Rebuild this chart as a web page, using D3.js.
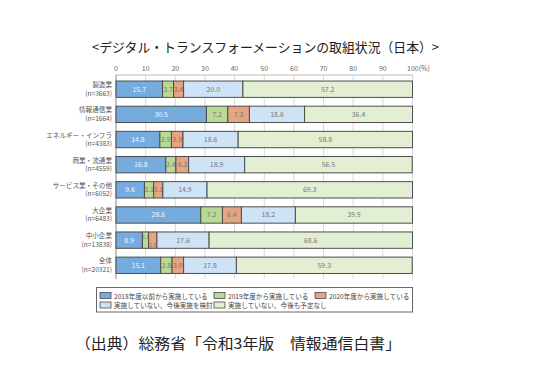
<!DOCTYPE html>
<html><head><meta charset="utf-8">
<script src="https://cdn.jsdelivr.net/npm/d3@7"></script>
<style>
body{margin:0;background:#fff;}
svg{display:block;font-family:"Noto Sans CJK JP","Noto Sans",sans-serif;}
</style></head>
<body><svg id="c" width="536" height="384"></svg>
<script>
const categories = ["製造業","情報通信業","エネルギー・インフラ","商業・流通業","サービス業・その他","大企業","中小企業","全体"];
const sampleSizes = ["(n=3663)","(n=1664)","(n=4383)","(n=4559)","(n=6052)","(n=6483)","(n=13838)","(n=20321)"];
const seriesNames = ["2018年度以前から実施している","2019年度から実施している","2020年度から実施している","実施していない、今後実施を検討","実施していない、今後も予定なし"];
const s2018 = [15.7,30.5,14.8,16.8,9.6,28.6,8.9,15.1];
const s2019 = [3.7,7.2,3.9,3.4,3.1,7.3,2.1,3.8];
const s2020 = [3.4,7.3,3.9,4.3,3.1,6.4,2.8,3.9];
const sConsider = [20.0,18.6,18.6,18.9,14.9,18.2,17.6,17.8];
const sNoPlan = [57.2,36.4,58.8,56.5,69.3,39.5,68.6,59.3];
const tickValues = [0,10,20,30,40,50,60,70,80,90,100];
const colors = ["#75abdd","#b9da95","#e6a481","#cfe3f6","#e3efd3"];

const svg = d3.select("#c");
const series = [s2018,s2019,s2020,sConsider,sNoPlan];
const rows = categories.map((c,i)=>{ const o={cat:c,n:sampleSizes[i]}; series.forEach((s,k)=>o["k"+k]=s[i]); return o;});
const keys = series.map((s,k)=>"k"+k);
const stacked = d3.stack().keys(keys)(rows);

const x = d3.scaleLinear().domain([0,100]).range([116,412.5]);
const y = d3.scaleBand().domain(categories).range([75.5,279]).paddingInner(0.35).paddingOuter(0.22);

// title
svg.append("text").attr("x",92).attr("y",52).attr("font-size",13).attr("fill","#222")
  .attr("textLength",347).attr("lengthAdjust","spacingAndGlyphs")
  .text("<デジタル・トランスフォーメーションの取組状況（日本）>");

// gridlines
svg.append("g").selectAll("line").data(tickValues.slice(1)).join("line")
  .attr("x1",d=>x(d)).attr("x2",d=>x(d)).attr("y1",75).attr("y2",279)
  .attr("stroke","#d8d8d8").attr("stroke-width",1);
svg.append("line").attr("x1",x(0)).attr("x2",x(100)).attr("y1",75).attr("y2",75).attr("stroke","#bbb");
svg.append("line").attr("x1",x(0)).attr("x2",x(0)).attr("y1",75).attr("y2",279).attr("stroke","#888");

// top axis labels
svg.append("g").selectAll("text").data(tickValues).join("text")
  .attr("x",d=>d===100 ? x(d)-5.5 : x(d)).attr("y",71)
  .attr("text-anchor",d=>d===100?"start":"middle")
  .attr("font-size",7).attr("fill","#666")
  .text(d=>d===100?"100(%)":d);

// bars
const g = svg.append("g");
stacked.forEach((layer,k)=>{
  g.append("g").selectAll("rect").data(layer).join("rect")
    .attr("x",d=>x(d[0])).attr("width",d=>x(d[1])-x(d[0]))
    .attr("y",d=>y(d.data.cat)).attr("height",y.bandwidth())
    .attr("fill",colors[k]).attr("stroke","#4d4d4d").attr("stroke-width",1);
});
stacked.forEach((layer,k)=>{
  g.append("g").selectAll("text").data(layer).join("text")
    .each(function(d){
      const w = x(d[1])-x(d[0]);
      const narrow = w < 9;
      const dy = narrow ? (k===1 ? -3.5 : 4) : 0;
      d3.select(this)
        .attr("x",(x(d[0])+x(d[1]))/2)
        .attr("y",y(d.data.cat)+y.bandwidth()/2+2.5+dy)
        .attr("font-size",narrow?5.2:7);
    })
    .attr("text-anchor","middle")
    .attr("fill",k===0?"#f4f8fc":"#777")
    .text(d=>(d[1]-d[0]).toFixed(1));
});

// category labels
const cl = svg.append("g").selectAll("g").data(rows).join("g");
cl.append("text").attr("x",112).attr("y",d=>y(d.cat)+y.bandwidth()/2-2)
  .attr("text-anchor","end").attr("font-size",6.6).attr("fill","#555").text(d=>d.cat);
cl.append("text").attr("x",112).attr("y",d=>y(d.cat)+y.bandwidth()/2+6.5)
  .attr("text-anchor","end").attr("font-size",6.6).attr("fill","#555").text(d=>d.n);

// legend
svg.append("rect").attr("x",96.5).attr("y",287.5).attr("width",316).attr("height",24.5)
  .attr("fill","#fff").attr("stroke","#666");
const legPos = [[100,296],[214,296],[315,296],[100,305.5],[214,305.5]];
const lg = svg.append("g").selectAll("g").data(seriesNames).join("g")
  .attr("transform",(d,i)=>`translate(${legPos[i][0]},${legPos[i][1]})`);
lg.append("rect").attr("x",0).attr("y",-3.5).attr("width",11).attr("height",6)
  .attr("fill",(d,i)=>colors[i]).attr("stroke","#4d4d4d").attr("stroke-width",0.8);
lg.append("text").attr("x",14).attr("y",2.5).attr("font-size",6.6).attr("fill","#444").text(d=>d);

// source
svg.append("text").attr("x",75).attr("y",349).attr("font-size",15).attr("fill","#222")
  .attr("textLength",326).attr("lengthAdjust","spacingAndGlyphs")
  .text("（出典）総務省「令和3年版\u3000情報通信白書」");
</script></body></html>
